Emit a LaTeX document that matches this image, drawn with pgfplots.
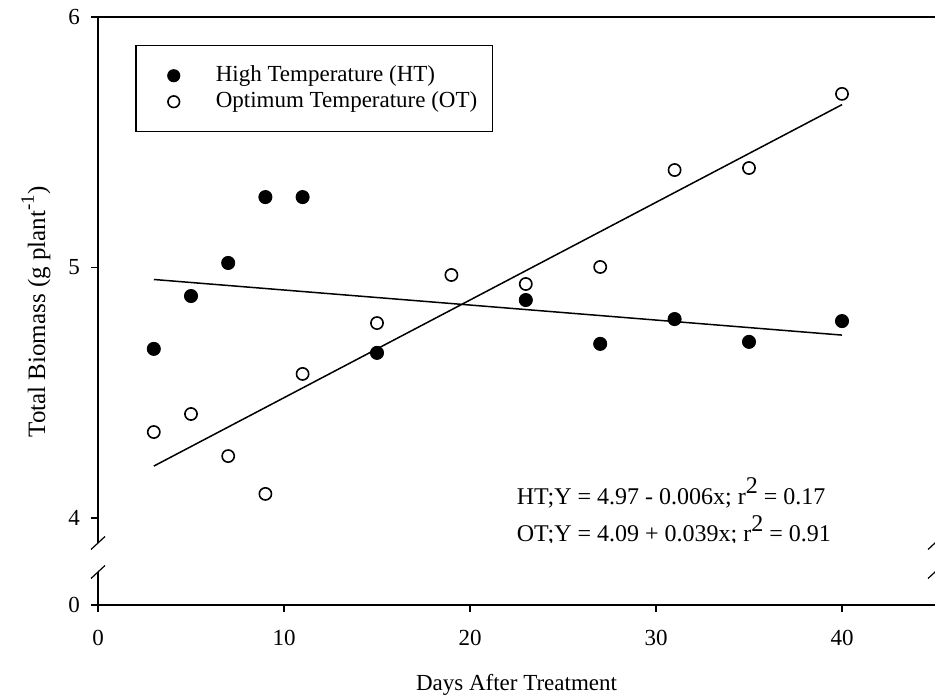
\documentclass[border=0pt]{standalone}
\usepackage{pgfplots}
\pgfplotsset{compat=1.18}
\usetikzlibrary{calc}
\usepackage{fontspec}
\setmainfont{Liberation Serif}
\begin{document}
\fontsize{11.5}{13.8}\selectfont
\begin{tikzpicture}[x=1pt,y=1pt]
\useasboundingbox (0,0) rectangle (467.5,349.5);
\pgfplotsset{
  every axis/.append style={
    scale only axis, width=418.5pt, xmin=0, xmax=45,
    axis line style={line width=1pt},
    tick align=outside, major tick length=3.5pt,
    every tick/.style={line width=0.9pt, black},
    /pgf/number format/assume math mode=true,
    tick label style={font=\fontsize{11.5}{13.8}\selectfont},
    yticklabel style={xshift=-1.5pt},
    xticklabel style={yshift=-5pt},
  }
}
% upper part
\begin{axis}[name=up, at={(49pt,78pt)}, anchor=south west, height=263pt,
  ymin=3.9, ymax=6,
  axis x line*=top, axis y line*=left,
  xtick=\empty, ytick={4,5,6},
  legend style={at={(rel axis cs:0.0442,0.9468)}, anchor=north west,
     draw=black, line width=0.75pt, inner xsep=7.5pt, inner ysep=8.5pt,
     row sep=0pt, column sep=0pt,
     nodes={inner sep=0pt, anchor=west},
     font=\fontsize{11.5}{13.8}\selectfont},
  legend cell align=left,
  legend image code/.code={%
     \path[draw=none, fill=none] (-11.5pt,-6.5pt) rectangle (21pt,6.5pt);
     \draw[#1, mark size=2.9pt] plot coordinates {(0pt,0pt)};},
]
\addplot[only marks, mark=*, mark size=3.3pt, black, fill=black] coordinates {
 (3,4.675) (5,4.886) (7,5.018) (9,5.281) (11,5.281) (15,4.659)
 (23,4.870) (27,4.695) (31,4.794) (35,4.703) (40,4.786)};
\addlegendentry{High Temperature (HT)}
\addplot[only marks, mark=o, mark size=3.05pt, black, line width=0.8pt] coordinates {
 (3,4.343) (5,4.415) (7,4.247) (9,4.096) (11,4.575) (15,4.778)
 (19,4.970) (23,4.934) (27,5.002) (31,5.389) (35,5.397) (40,5.693)};
\addlegendentry{Optimum Temperature (OT)}
\addplot[forget plot, no marks, black, line width=0.75pt] coordinates {(3,4.952) (40,4.730)};
\addplot[forget plot, no marks, black, line width=0.75pt] coordinates {(3,4.207) (40,5.650)};
\node[anchor=west, inner sep=0pt, font=\fontsize{12}{14}\selectfont] at (axis cs:22.5,4.10) {HT;Y = 4.97 - 0.006x; r\raisebox{0.42em}{2} = 0.17};
\node[anchor=west, inner sep=0pt, font=\fontsize{12}{14}\selectfont] at (axis cs:22.5,3.952) {OT;Y = 4.09 + 0.039x; r\raisebox{0.42em}{2} = 0.91};
\end{axis}
% lower part
\begin{axis}[name=low, at={(49pt,47pt)}, anchor=south west, height=16.5pt,
  ymin=0, ymax=1,
  axis x line*=bottom, axis y line*=left,
  xtick={0,10,20,30,40}, ytick={0},
  xlabel={Days After Treatment},
  xlabel style={font=\fontsize{11.5}{13.8}\selectfont, yshift=-6.5pt},
]
\end{axis}
% break marks
\foreach \p in {up.south west, low.north west, up.south east, low.north east}{
  \draw[line width=0.6pt] ($(\p)+(-3.5pt,-3.25pt)$) -- ($(\p)+(3.5pt,3.25pt)$);
}
\node[rotate=90, font=\fontsize{12.5}{15}\selectfont] at (18,193.5) {Total Biomass (g plant\raisebox{0.45em}{\fontsize{9.5}{11}\selectfont -1})};
\end{tikzpicture}
\end{document}
